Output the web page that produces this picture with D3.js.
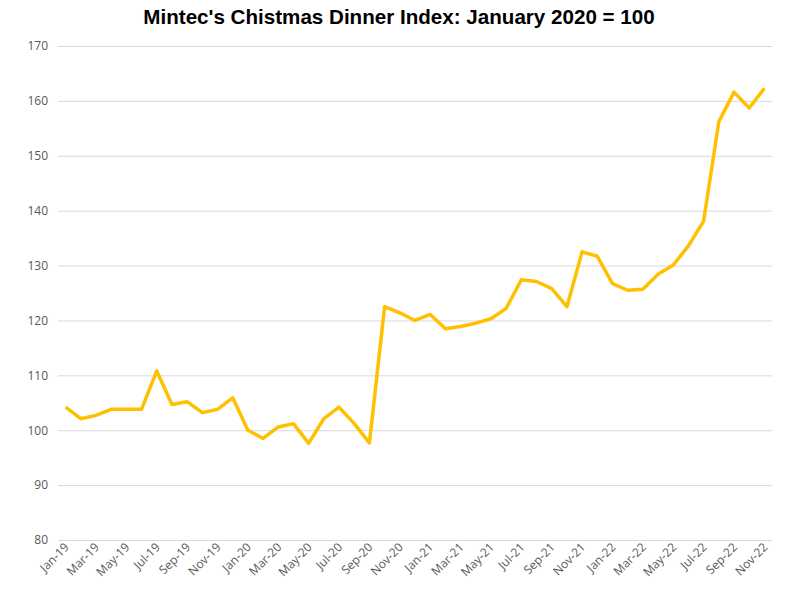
<!DOCTYPE html>
<html>
<head>
<meta charset="utf-8">
<script src="https://cdn.jsdelivr.net/npm/d3@7"></script>
<style>
  body { margin: 0; background: #fff; }
  .title { font-family: 'Liberation Sans', Arial, sans-serif; font-weight: bold; font-size: 20.6px; fill: #000; }
  .tick text { font-family: 'Open Sans', sans-serif; font-size: 12px; fill: #595959; }
</style>
</head>
<body>
<div id="chart"></div>
<script>
// Datos
const months = [
  'Jan-19','Feb-19','Mar-19','Apr-19','May-19','Jun-19','Jul-19','Aug-19','Sep-19','Oct-19','Nov-19','Dec-19',
  'Jan-20','Feb-20','Mar-20','Apr-20','May-20','Jun-20','Jul-20','Aug-20','Sep-20','Oct-20','Nov-20','Dec-20',
  'Jan-21','Feb-21','Mar-21','Apr-21','May-21','Jun-21','Jul-21','Aug-21','Sep-21','Oct-21','Nov-21','Dec-21',
  'Jan-22','Feb-22','Mar-22','Apr-22','May-22','Jun-22','Jul-22','Aug-22','Sep-22','Oct-22','Nov-22'
]
const index = [
  104.2, 102.1, 102.7, 103.8, 103.8, 103.8, 110.8, 104.7, 105.2, 103.2, 103.8, 105.9,
  100.0, 98.5, 100.6, 101.2, 97.6, 102.1, 104.2, 101.2, 97.7, 122.5, 121.4, 120.0,
  121.1, 118.5, 118.9, 119.5, 120.3, 122.2, 127.4, 127.1, 125.8, 122.5, 132.5, 131.7,
  126.7, 125.5, 125.7, 128.4, 130.1, 133.6, 138.1, 156.2, 161.6, 158.7, 162.3
]
const yTicks = [80, 90, 100, 110, 120, 130, 140, 150, 160, 170]

const width = 809
const height = 592
const margin = { top: 46, right: 37, bottom: 52, left: 58 }

const svg = d3.select('#chart')
  .append('svg')
  .attr('width', width)
  .attr('height', height)

// Titulo
svg.append('text')
  .attr('class', 'title')
  .attr('x', 399)
  .attr('y', 24)
  .attr('text-anchor', 'middle')
  .text("Mintec's Chistmas Dinner Index: January 2020 = 100")

// Escalas
const x = d3.scaleBand()
  .domain(months)
  .range([margin.left, width - margin.right])

const y = d3.scaleLinear()
  .domain([80, 170])
  .range([height - margin.bottom, margin.top])

// Eje Y con rejilla
const axisY = d3.axisLeft(y)
  .tickValues(yTicks)
  .tickSize(-(width - margin.left - margin.right))
  .tickPadding(10)

svg.append('g')
  .attr('transform', `translate(${margin.left}, 0)`)
  .call(axisY)
  .call(g => g.select('.domain').remove())
  .call(g => g.selectAll('.tick line').attr('stroke', '#d9d9d9'))

// Eje X (una etiqueta cada dos meses)
const axisX = d3.axisBottom(x)
  .tickValues(months.filter((d, i) => i % 2 === 0))
  .tickSize(0)
  .tickPadding(0)

svg.append('g')
  .attr('transform', `translate(0, ${height - margin.bottom})`)
  .call(axisX)
  .call(g => g.select('.domain').remove())
  .call(g => g.selectAll('.tick text')
    .attr('text-anchor', 'end')
    .attr('dy', null)
    .attr('transform', 'translate(4, 8) rotate(-45)'))

// Linea
const line = d3.line()
  .x((d, i) => x(months[i]) + x.bandwidth() / 2)
  .y(d => y(d))

svg.append('path')
  .datum(index)
  .attr('fill', 'none')
  .attr('stroke', '#ffc000')
  .attr('stroke-width', 3.5)
  .attr('stroke-linejoin', 'round')
  .attr('d', line)
</script>
</body>
</html>
